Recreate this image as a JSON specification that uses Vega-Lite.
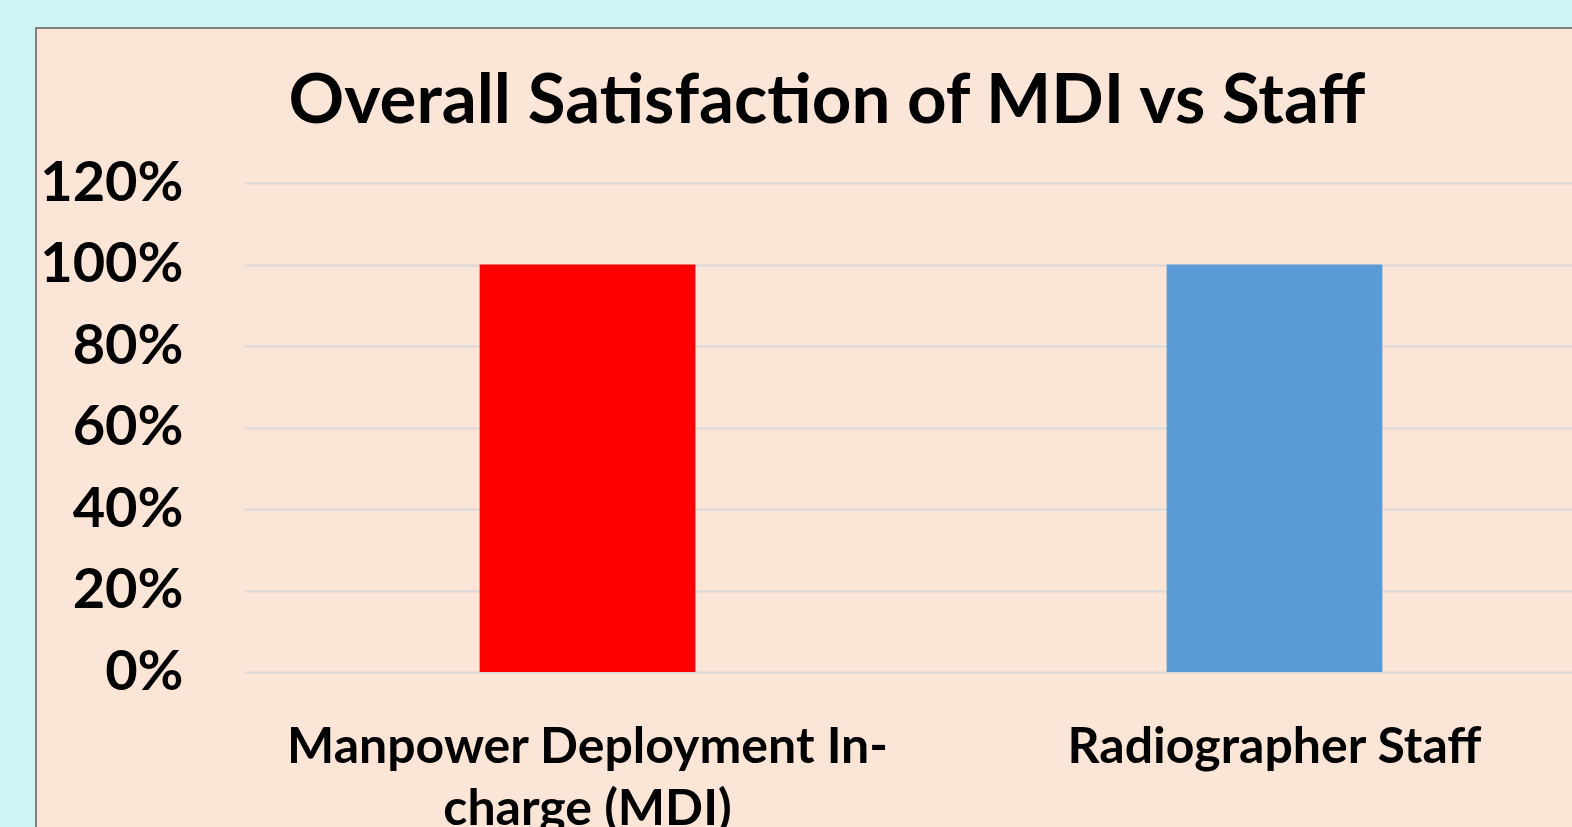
{
  "$schema": "https://vega.github.io/schema/vega-lite/v6.json",
  "autosize": "none",
  "padding": {"left": 36, "top": 28, "right": 0, "bottom": 0},
  "width": 1600,
  "height": 900,
  "background": "#d0f4f4",
  "title": {
    "text": "Overall Satisfaction of MDI vs Staff",
    "orient": "top",
    "anchor": "middle",
    "font": "Lato",
    "fontSize": 69,
    "fontWeight": "bold",
    "color": "#000000",
    "baseline": "alphabetic",
    "offset": -164,
    "dx": -9
  },
  "data": {
    "values": [
      {"group": "Manpower Deployment In-charge (MDI)", "satisfaction": 1.0},
      {"group": "Radiographer Staff", "satisfaction": 1.0}
    ]
  },
  "mark": {"type": "bar"},
  "encoding": {
    "x": {
      "field": "group",
      "type": "nominal",
      "sort": null,
      "scale": {"range": [208, 1582], "paddingInner": 0.686, "paddingOuter": 0.343},
      "axis": {
        "title": null,
        "orient": "bottom",
        "offset": -206,
        "ticks": false,
        "domain": false,
        "grid": false,
        "labelPadding": 0,
        "labelAngle": 0,
        "labelFont": "Lato",
        "labelFontSize": 50,
        "labelFontWeight": "bold",
        "labelColor": "#000000",
        "labelLineHeight": 62,
        "labelLimit": 0,
        "labelExpr": "datum.value == 'Manpower Deployment In-charge (MDI)' ? ['Manpower Deployment In-', 'charge (MDI)'] : datum.value"
      }
    },
    "y": {
      "field": "satisfaction",
      "type": "quantitative",
      "scale": {"domain": [0, 1.2], "range": [644, 155], "nice": false, "zero": true},
      "axis": {
        "title": null,
        "orient": "left",
        "offset": -147,
        "values": [0, 0.2, 0.4, 0.6, 0.8, 1.0, 1.2],
        "format": ".0%",
        "ticks": false,
        "domain": false,
        "grid": true,
        "gridColor": "#d9d9d9",
        "gridWidth": 2,
        "labelPadding": 0,
        "labelFont": "Lato",
        "labelFontSize": 56,
        "labelFontWeight": "bold",
        "labelColor": "#000000"
      }
    },
    "color": {
      "field": "group",
      "type": "nominal",
      "scale": {
        "domain": ["Manpower Deployment In-charge (MDI)", "Radiographer Staff"],
        "range": ["#ff0000", "#5b9bd5"]
      },
      "legend": null
    }
  },
  "config": {
    "view": {"fill": "#fbe5d7", "stroke": "#808080", "strokeWidth": 2}
  }
}
